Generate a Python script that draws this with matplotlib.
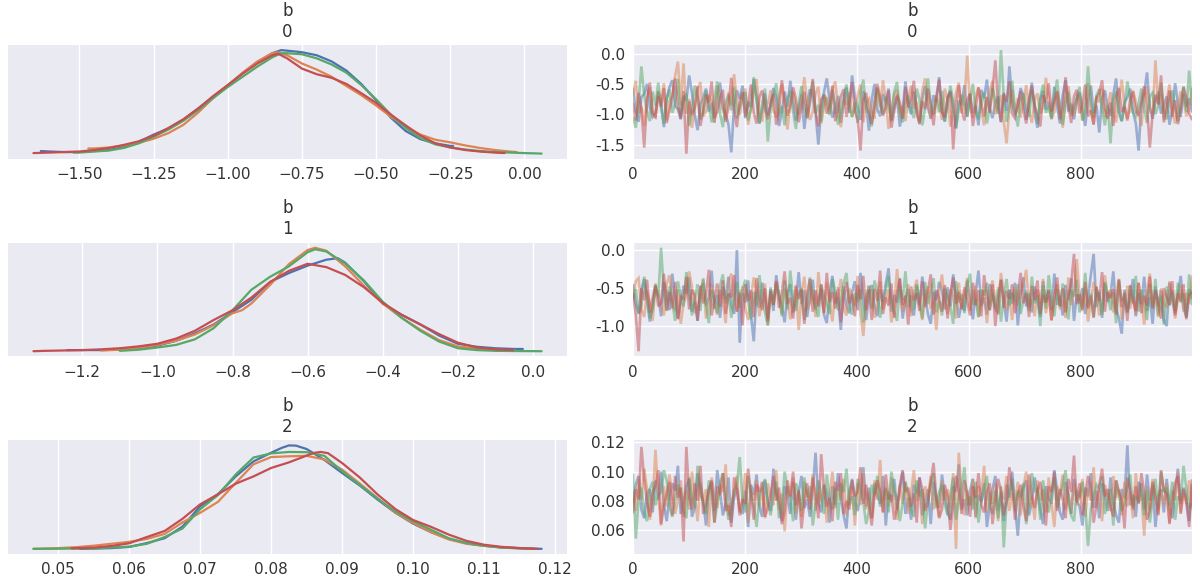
import numpy as np
import matplotlib
matplotlib.use("Agg")
import matplotlib.pyplot as plt
from matplotlib.ticker import MultipleLocator, FormatStrFormatter
import seaborn as sns

# ---------------- data ----------------
params = ["b\n0", "b\n1", "b\n2"]
chain_colors = ["#4C72B0", "#DD8452", "#55A868", "#C44E52"]
n_draws = 1000

# KDE curves (x, density) per chain
b0_kde_x = [
    [-1.63, -1.60, -1.55, -1.50, -1.45, -1.40, -1.35, -1.30, -1.25, -1.20, -1.15, -1.10, -1.05, -1.00, -0.95, -0.90, -0.85, -0.82, -0.80, -0.75, -0.70, -0.65, -0.60, -0.55, -0.50, -0.45, -0.40, -0.35, -0.30, -0.25, -0.24],
    [-1.47, -1.45, -1.40, -1.35, -1.30, -1.25, -1.20, -1.15, -1.10, -1.05, -1.00, -0.95, -0.90, -0.85, -0.83, -0.80, -0.75, -0.70, -0.65, -0.60, -0.55, -0.50, -0.45, -0.40, -0.35, -0.30, -0.25, -0.20, -0.15, -0.10, -0.05, -0.026],
    [-1.52, -1.50, -1.45, -1.40, -1.35, -1.30, -1.25, -1.20, -1.15, -1.10, -1.05, -1.00, -0.95, -0.90, -0.85, -0.82, -0.80, -0.75, -0.70, -0.65, -0.60, -0.55, -0.50, -0.45, -0.40, -0.35, -0.30, -0.25, -0.20, -0.15, -0.10, -0.05, 0.0, 0.058],
    [-1.655, -1.60, -1.55, -1.50, -1.45, -1.40, -1.35, -1.30, -1.25, -1.20, -1.15, -1.10, -1.05, -1.00, -0.95, -0.90, -0.85, -0.83, -0.80, -0.75, -0.70, -0.65, -0.60, -0.55, -0.50, -0.45, -0.40, -0.35, -0.30, -0.25, -0.20, -0.15, -0.10, -0.067],
]
b0_kde_y = [
    [0.05, 0.04, 0.03, 0.03, 0.05, 0.07, 0.13, 0.23, 0.37, 0.49, 0.66, 0.88, 1.10, 1.33, 1.57, 1.79, 1.96, 2.02, 2.01, 1.98, 1.92, 1.80, 1.62, 1.36, 1.04, 0.70, 0.44, 0.28, 0.20, 0.15, 0.15],
    [0.10, 0.10, 0.12, 0.16, 0.21, 0.29, 0.40, 0.56, 0.80, 1.08, 1.33, 1.58, 1.80, 1.96, 1.98, 1.92, 1.76, 1.64, 1.50, 1.32, 1.14, 0.94, 0.72, 0.52, 0.37, 0.27, 0.22, 0.16, 0.11, 0.07, 0.04, 0.03],
    [0.02, 0.02, 0.04, 0.06, 0.11, 0.20, 0.33, 0.47, 0.64, 0.85, 1.08, 1.30, 1.50, 1.70, 1.88, 1.96, 1.96, 1.94, 1.86, 1.74, 1.58, 1.34, 1.06, 0.76, 0.50, 0.30, 0.18, 0.12, 0.08, 0.05, 0.03, 0.02, 0.01, 0.0],
    [0.01, 0.02, 0.03, 0.04, 0.07, 0.11, 0.17, 0.24, 0.35, 0.50, 0.67, 0.88, 1.12, 1.34, 1.56, 1.76, 1.92, 1.95, 1.86, 1.66, 1.55, 1.48, 1.36, 1.18, 0.99, 0.76, 0.55, 0.35, 0.20, 0.12, 0.07, 0.04, 0.02, 0.01],
]
b1_kde_x = [
    [-1.24, -1.20, -1.15, -1.10, -1.05, -1.00, -0.95, -0.90, -0.85, -0.80, -0.75, -0.70, -0.65, -0.60, -0.55, -0.52, -0.50, -0.45, -0.40, -0.35, -0.30, -0.25, -0.20, -0.15, -0.10, -0.05, -0.027],
    [-1.15, -1.10, -1.05, -1.00, -0.95, -0.90, -0.85, -0.80, -0.775, -0.75, -0.70, -0.65, -0.60, -0.58, -0.55, -0.50, -0.45, -0.40, -0.35, -0.30, -0.25, -0.20, -0.15, -0.10, -0.048],
    [-1.10, -1.05, -1.00, -0.95, -0.90, -0.85, -0.80, -0.75, -0.70, -0.65, -0.60, -0.58, -0.55, -0.50, -0.45, -0.40, -0.35, -0.30, -0.25, -0.20, -0.15, -0.10, -0.05, 0.023],
    [-1.33, -1.30, -1.25, -1.20, -1.15, -1.10, -1.05, -1.00, -0.95, -0.90, -0.85, -0.80, -0.75, -0.70, -0.65, -0.60, -0.55, -0.50, -0.45, -0.40, -0.35, -0.30, -0.25, -0.20, -0.15, -0.10, -0.053],
]
b1_kde_y = [
    [0.03, 0.03, 0.03, 0.04, 0.08, 0.15, 0.28, 0.48, 0.72, 1.05, 1.38, 1.86, 2.10, 2.30, 2.46, 2.50, 2.38, 1.88, 1.28, 0.98, 0.72, 0.42, 0.20, 0.12, 0.08, 0.06, 0.06],
    [0.02, 0.04, 0.09, 0.17, 0.28, 0.45, 0.70, 1.02, 1.10, 1.28, 1.78, 2.34, 2.72, 2.78, 2.70, 2.28, 1.76, 1.28, 0.90, 0.58, 0.30, 0.13, 0.07, 0.04, 0.02],
    [0.01, 0.04, 0.10, 0.17, 0.32, 0.62, 1.10, 1.65, 2.00, 2.28, 2.66, 2.74, 2.68, 2.36, 1.90, 1.33, 0.90, 0.55, 0.26, 0.08, 0.03, 0.01, 0.005, 0.0],
    [0.0, 0.01, 0.02, 0.03, 0.05, 0.08, 0.13, 0.20, 0.34, 0.55, 0.84, 1.10, 1.44, 1.86, 2.16, 2.35, 2.26, 2.05, 1.72, 1.30, 0.98, 0.72, 0.46, 0.23, 0.10, 0.05, 0.03],
]
b2_kde_x = [
    [0.053, 0.055, 0.0575, 0.06, 0.0625, 0.065, 0.0675, 0.07, 0.0725, 0.075, 0.0775, 0.08, 0.0815, 0.0825, 0.0835, 0.085, 0.0875, 0.09, 0.0925, 0.095, 0.0975, 0.10, 0.1025, 0.105, 0.1075, 0.11, 0.1125, 0.115, 0.1181],
    [0.0465, 0.05, 0.0525, 0.055, 0.0575, 0.06, 0.0625, 0.065, 0.0675, 0.07, 0.0725, 0.075, 0.0775, 0.08, 0.0825, 0.085, 0.0875, 0.09, 0.0925, 0.095, 0.0975, 0.10, 0.1025, 0.105, 0.1075, 0.11, 0.1125, 0.1165],
    [0.0465, 0.05, 0.055, 0.06, 0.0625, 0.065, 0.0675, 0.07, 0.0725, 0.075, 0.0775, 0.08, 0.0825, 0.085, 0.0875, 0.09, 0.0925, 0.095, 0.0975, 0.10, 0.1025, 0.105, 0.1075, 0.11, 0.1125, 0.117],
    [0.0519, 0.055, 0.0575, 0.06, 0.0625, 0.065, 0.0675, 0.07, 0.0725, 0.075, 0.0775, 0.08, 0.0825, 0.085, 0.086, 0.087, 0.088, 0.09, 0.0925, 0.095, 0.0975, 0.10, 0.1025, 0.105, 0.1075, 0.11, 0.1125, 0.115, 0.1176],
]
b2_kde_y = [
    [0.1, 0.2, 0.4, 0.9, 2.5, 4.5, 9.3, 17.7, 22.7, 30.0, 36.2, 39.8, 41.8, 42.8, 42.7, 41.3, 36.8, 31.4, 26.2, 20.4, 15.0, 10.5, 7.0, 4.2, 2.4, 1.4, 0.6, 0.3, 0.1],
    [0.1, 0.4, 0.8, 1.4, 2.2, 3.0, 4.2, 6.3, 11.0, 15.0, 19.5, 27.3, 35.0, 38.0, 38.3, 38.5, 37.0, 32.8, 27.0, 21.0, 15.0, 10.8, 7.0, 4.0, 2.2, 1.3, 0.7, 0.2],
    [0.1, 0.15, 0.3, 1.0, 2.2, 5.0, 8.5, 16.5, 22.3, 30.8, 37.8, 39.5, 40.1, 40.0, 38.5, 32.1, 26.5, 20.8, 15.5, 11.5, 8.0, 4.5, 2.5, 1.4, 0.7, 0.2],
    [0.3, 0.6, 1.3, 2.4, 5.0, 7.5, 12.5, 18.5, 22.6, 27.0, 30.0, 33.5, 35.8, 38.6, 39.7, 40.1, 39.6, 35.5, 29.5, 22.5, 16.5, 12.0, 9.2, 6.0, 3.4, 1.8, 0.9, 0.4, 0.1],
]

# Trace values (every 5th draw), one list per chain
b0_trace = [
    [-0.58,-0.93,-1.12,-0.71,-0.66,-0.49,-0.88,-1.04,-0.97,-0.62,
     -0.80,-1.21,-0.75,-0.54,-0.43,-0.86,-0.91,-1.08,-0.69,-0.77,
     -0.35,-0.64,-1.01,-1.26,-0.83,-0.72,-0.57,-0.95,-0.81,-1.13,
     -0.68,-0.47,-0.90,-0.99,-1.17,-1.63,-0.85,-0.60,-0.74,-0.52,
     -1.06,-0.79,-0.88,-0.41,-0.70,-1.15,-0.93,-0.65,-1.02,-0.84,
     -0.56,-0.73,-1.19,-0.96,-0.62,-0.87,-0.44,-0.78,-1.10,-0.92,
     -0.67,-1.24,-0.82,-0.58,-0.71,-0.98,-1.50,-0.89,-0.63,-0.40,
     -0.76,-1.05,-0.93,-0.69,-1.14,-0.81,-0.55,-0.97,-0.35,-0.72,
     -0.88,-1.09,-0.61,-0.84,-1.27,-0.75,-0.49,-0.92,-1.03,-0.66,
     -0.79,-0.57,-1.11,-0.86,-0.70,-1.20,-0.94,-0.45,-0.83,-1.00,
     -0.62,-0.91,-1.16,-0.74,-0.53,-0.87,-1.07,-0.68,-0.80,-0.38,
     -0.95,-1.12,-0.72,-0.60,-0.89,-1.23,-0.77,-0.84,-0.51,-1.04,
     -0.66,-0.98,-0.85,-1.18,-0.59,-0.73,-0.42,-0.90,-1.06,-0.81,
     -0.70,-1.13,-0.64,-0.94,-0.20,-0.78,-1.01,-0.87,-0.56,-0.69,
     -1.09,-0.83,-0.47,-0.97,-1.22,-0.75,-0.61,-0.92,-0.79,-1.05,
     -0.54,-0.86,-1.15,-0.68,-0.43,-0.95,-0.82,-1.08,-0.72,-0.63,
     -0.90,-1.19,-0.77,-0.52,-0.98,-0.85,-1.30,-0.74,-0.60,-0.88,
     -1.02,-0.67,-0.40,-0.93,-1.11,-0.80,-0.71,-0.57,-0.96,-1.14,
     -1.60,-0.83,-0.65,-0.30,-0.89,-1.07,-0.76,-0.62,-0.99,-0.84,
     -0.70,-1.17,-0.93,-0.48,-0.81,-1.04,-0.66,-0.88,-0.73,-0.95],
    [-0.66,-0.44,-0.98,-0.87,-1.19,-0.72,-0.55,-0.93,-1.06,-0.61,
     -0.81,-0.48,-1.10,-0.77,-0.69,-0.36,-0.12,-0.84,-0.15,-0.99,
     -0.74,-1.22,-0.89,-0.58,-0.46,-1.03,-0.95,-0.67,-0.80,-1.14,
     -0.52,-0.71,-0.92,-1.08,-0.63,-0.85,-0.33,-0.78,-1.01,-0.70,
     -0.57,-1.17,-0.88,-0.64,-0.41,-0.97,-1.12,-0.75,-0.83,-0.60,
     -0.93,-1.05,-0.68,-0.49,-0.86,-1.25,-0.79,-0.62,-0.91,-1.00,
     -0.73,-0.38,-0.82,-1.09,-0.96,-0.65,-0.54,-1.15,-0.87,-0.71,
     -0.99,-0.59,-0.45,-0.90,-1.21,-0.76,-0.84,-0.63,-1.04,-0.92,
     -0.68,-0.50,-1.13,-0.81,-0.74,-0.97,-1.07,-0.56,-0.88,-0.43,
     -0.77,-1.24,-0.94,-0.66,-0.59,-1.01,-0.85,-1.11,-0.72,-0.52,
     -0.90,-0.79,-1.16,-0.61,-0.40,-0.86,-1.03,-0.95,-0.69,-0.82,
     -1.09,-0.57,-0.75,-1.20,-0.91,-0.64,-0.47,-0.98,-0.80,-0.02,
     -0.87,-1.06,-0.70,-0.55,-0.93,-1.18,-0.76,-0.62,-0.44,-1.00,
     -0.84,-0.68,-1.12,-1.48,-0.89,-0.58,-0.96,-0.73,-1.05,-0.81,
     -0.51,-0.92,-1.14,-0.77,-0.65,-0.99,-0.86,-0.39,-0.74,-1.08,
     -0.95,-0.60,-0.83,-1.22,-0.71,-0.53,-0.90,-1.02,-0.78,-0.67,
     -1.10,-0.85,-0.48,-0.94,-1.16,-0.69,-0.80,-0.57,-1.04,-0.88,
     -0.63,-0.97,-1.13,-0.75,-0.42,-0.86,-1.07,-0.92,-0.60,-0.79,
     -0.98,-1.19,-0.71,-0.54,-0.89,-1.01,-0.10,-0.83,-0.66,-1.09,
     -0.77,-0.50,-0.93,-1.15,-0.85,-0.62,-0.73,-1.03,-0.90,-0.58],
    [-1.05,-1.22,-0.79,-0.20,-0.68,-0.94,-1.11,-0.62,-0.85,-0.47,
     -0.90,-1.16,-0.73,-0.58,-0.97,-0.83,-0.41,-1.03,-0.76,-0.65,
     -1.19,-0.88,-0.52,-0.71,-1.08,-0.96,-0.60,-0.84,-1.13,-0.74,
     -0.45,-0.99,-1.21,-0.80,-0.67,-0.93,-0.55,-1.06,-0.87,-0.70,
     -0.63,-1.10,-0.92,-0.38,-0.78,-1.15,-0.82,-0.57,-1.45,-0.91,
     -0.69,-0.48,-1.02,-0.86,-1.18,-0.75,-0.61,-0.95,-1.24,-0.81,
     -0.53,-0.89,-1.07,-0.72,-0.44,-0.98,-0.84,-1.12,-0.66,-0.77,
     -1.01,-0.59,-0.85,-1.17,-0.93,-0.70,-0.50,-0.88,-1.04,-0.79,
     -1.14,-0.64,-0.42,-0.90,-0.97,-1.20,-0.76,-0.55,-0.83,-1.00,
     -0.71,-0.87,-1.09,-0.62,-0.46,-0.94,-1.13,-0.80,-0.68,-0.92,
     -1.06,-0.57,-0.75,-1.18,-0.89,-0.40,-0.82,-1.01,-0.73,-0.96,
     -0.61,-1.11,-0.86,-0.52,-0.78,-1.23,-0.91,-0.67,-0.84,-1.03,
     -0.74,-0.49,-0.95,-1.08,-0.81,-0.63,-1.15,-0.88,-0.56,-0.77,
     -0.99,0.07,-0.70,-1.12,-0.85,-0.44,-0.92,-1.20,-0.78,-0.65,
     -0.87,-1.04,-0.59,-0.83,-1.16,-0.72,-0.50,-0.97,-0.89,-1.07,
     -0.68,-0.42,-0.93,-1.17,-0.80,-0.62,-1.02,-0.86,-0.74,-0.54,
     -1.10,-0.95,-0.20,-0.79,-1.05,-0.69,-0.58,-0.91,-1.18,-0.84,
     -1.48,-0.76,-0.61,-0.98,-1.11,-0.87,-0.45,-0.73,-0.96,-1.03,
     -0.82,-0.57,-0.90,-1.14,-0.70,-0.64,-1.00,-0.85,-0.47,-0.93,
     -1.08,-0.75,-0.60,-0.88,-1.12,-0.79,-0.53,-0.96,-0.27,-0.83],
    [-0.82,-1.10,-0.64,-0.91,-1.55,-0.76,-0.47,-0.98,-1.04,-0.69,
     -0.87,-0.56,-1.14,-0.93,-0.72,-0.40,-0.85,-1.07,-0.61,-1.65,
     -0.78,-1.01,-0.88,-0.53,-1.19,-0.94,-0.67,-0.81,-0.45,-1.06,
     -0.96,-0.73,-0.59,-1.12,-0.86,-0.39,-0.92,-1.21,-0.77,-0.63,
     -1.03,-0.84,-0.50,-0.97,-1.15,-0.71,-0.60,-0.89,-1.08,-0.80,
     -0.66,-1.17,-0.93,-0.43,-0.79,-1.02,-0.87,-0.55,-0.74,-1.13,
     -0.90,-0.62,-1.05,-0.83,-0.41,-0.95,-1.20,-0.75,-0.68,-0.99,
     -0.86,-0.52,-1.11,-0.92,-0.70,-0.58,-1.04,-0.81,-0.46,-0.94,
     -1.09,-1.60,-0.77,-0.64,-0.97,-1.16,-0.85,-0.49,-0.73,-1.02,
     -0.89,-0.60,-1.22,-0.95,-0.67,-0.80,-1.07,-0.54,-0.88,-0.74,
     -0.44,-1.00,-1.13,-0.78,-0.91,-0.57,-0.84,-1.18,-0.69,-0.42,
     -0.96,-1.05,-0.72,-0.63,-1.58,-0.87,-0.51,-0.93,-1.10,-0.76,
     -0.65,-1.19,-0.90,-0.55,-0.82,-1.03,-0.71,-0.97,-0.58,-0.10,
     -0.88,-1.12,-0.66,-0.79,-0.45,-0.99,-1.06,-0.83,-0.61,-0.92,
     -1.15,-0.74,-0.52,-0.86,-1.01,-1.20,-0.68,-0.81,-0.48,-0.95,
     -0.77,-0.62,-1.08,-0.90,-0.38,-0.85,-1.14,-0.70,-0.59,-0.98,
     -0.84,-0.50,-1.03,-0.93,-1.17,-0.73,-0.64,-0.43,-0.91,-1.07,
     -0.80,-1.19,-0.69,-0.56,-0.96,-0.87,-1.10,-0.75,-0.62,-0.94,
     -1.02,-0.78,-0.53,-0.88,-1.55,-0.97,-0.67,-0.83,-0.35,-1.13,
     -0.89,-0.60,-1.04,-0.76,-1.16,-0.92,-0.55,-0.71,-0.99,-1.08],
]
b1_trace = [
    [-0.46,-0.71,-0.83,-0.52,-0.38,-0.66,-0.94,-0.75,-0.49,-0.60,
     -0.87,-0.42,-0.55,-0.79,-0.31,-0.64,-0.90,-0.70,-0.47,-0.58,
     -0.36,-0.81,-0.68,-0.93,-0.50,-0.44,-0.73,-0.62,-0.27,-0.77,
     -0.59,-0.89,-0.48,-0.65,-0.35,-0.72,-0.84,0.00,-1.22,-0.57,
     -0.69,-0.40,-0.86,-1.20,-0.54,-0.76,-0.43,-0.63,-0.91,-0.51,
     -0.80,-0.33,-0.60,-0.74,-0.95,-0.56,-0.45,-0.82,-0.67,-0.29,
     -0.71,-0.53,-0.88,-0.61,-0.39,-0.78,-0.66,-0.50,-0.85,-0.96,
     -0.57,-0.34,-0.70,-0.62,-1.05,-0.48,-0.75,-0.83,-0.55,-0.41,
     -0.79,-0.30,-0.64,-0.92,-0.58,-0.46,-0.73,-0.87,-0.52,-0.68,
     -0.44,-0.24,-0.81,-0.59,-0.69,-0.37,-0.90,-0.63,-0.51,-0.76,
     -0.86,-0.47,-0.72,-0.35,-0.60,-0.84,-0.97,-0.55,-0.66,-0.42,
     -0.53,-0.78,-0.49,-0.74,-0.32,-0.61,-0.89,-0.70,-0.80,-0.40,
     -0.65,-0.91,-0.56,-0.27,-0.73,-0.62,-0.85,-0.45,-0.58,-0.77,
     -0.83,-0.39,-0.67,-0.94,-0.52,-0.71,-0.43,-0.99,-0.60,-0.36,
     -0.74,-0.57,-0.82,-0.48,-0.64,-0.88,-0.41,-0.69,-0.54,-0.79,
     -0.31,-0.72,-0.61,-0.86,-0.46,-0.66,-0.37,-0.93,-0.58,-0.70,
     -0.50,-0.84,-0.63,-0.33,-0.05,-0.75,-0.55,-0.89,-0.44,-0.68,
     -0.59,-0.28,-0.77,-0.90,-1.10,-0.52,-0.81,-0.65,-0.38,-0.87,
     -0.57,-0.71,-0.35,-0.80,-0.62,-0.97,-0.48,-0.74,-0.53,-0.92,
     -1.00,-0.43,-0.67,-0.83,-0.58,-0.34,-0.76,-0.88,-0.51,-0.63],
    [-0.62,-0.41,-0.37,-0.78,-0.88,-0.55,-0.69,-0.93,-0.47,-0.58,
     -0.74,-0.86,-0.44,-0.33,-0.65,-0.80,-0.52,-0.97,-0.71,-0.60,
     -0.28,-0.49,-0.83,-0.76,-0.57,-0.39,-0.90,-0.64,-0.45,-0.72,
     -0.85,-0.53,-0.67,-0.96,-0.42,-0.31,-0.70,-0.81,-0.59,-0.48,
     -0.77,-0.92,-0.63,-0.36,-0.54,-0.87,-0.68,-0.44,-0.99,-0.56,
     -0.73,-0.40,-0.61,-0.84,-0.50,-0.66,-0.91,-0.75,-0.46,-1.05,
     -0.58,-0.35,-0.79,-0.69,-0.52,-0.88,-0.29,-0.62,-0.82,-0.43,
     -0.71,-0.94,-0.55,-0.64,-0.38,-0.76,-0.86,-0.50,-0.60,-0.73,
     -0.34,-0.83,-1.13,-0.65,-0.47,-0.57,-0.89,-0.70,-0.41,-0.78,
     -0.63,-0.52,-0.95,-0.74,-0.25,-0.59,-0.81,-0.67,-0.45,-0.87,
     -0.54,-0.39,-0.72,-0.92,-0.61,-0.48,-0.77,-0.66,-1.05,-0.56,
     -0.32,-0.69,-0.84,-0.51,-0.62,-0.90,-0.43,-0.75,-0.58,-0.37,
     -0.80,-0.64,-0.47,-0.88,-0.71,-0.53,-0.96,-0.60,-0.40,-0.68,
     -0.85,-0.30,-0.57,-0.79,-0.63,-0.92,-0.49,-0.73,-0.55,-0.44,
     -0.26,-0.76,-0.65,-0.87,-0.51,-0.70,-0.38,-0.83,-0.61,-0.93,
     -0.58,-0.45,-0.78,-0.66,-0.89,-0.36,-0.72,-0.54,-0.12,-0.62,
     -0.80,-0.49,-0.94,-0.68,-0.42,-0.57,-0.86,-0.74,-0.33,-0.64,
     -0.52,-0.82,-0.60,-0.39,-0.91,-0.70,-0.47,-0.77,-0.59,-0.85,
     -0.43,-0.67,-0.98,-0.55,-0.31,-0.73,-0.62,-0.88,-0.50,-0.69,
     -0.76,-0.41,-0.58,-0.90,-0.64,-0.46,-0.81,-0.56,-0.71,-0.35],
    [-0.66,-0.51,-0.84,-0.73,-0.35,-0.59,-0.90,-0.77,-0.44,-0.62,
     0.03,-0.55,-0.79,-0.48,-0.68,-0.93,-0.41,-0.60,-0.74,-0.29,
     -0.57,-0.86,-0.64,-0.45,-0.80,-0.37,-0.71,-0.96,-0.53,-0.65,
     -0.83,-0.47,-0.32,-0.70,-0.58,-0.89,-0.61,-0.42,-0.76,-0.52,
     -0.39,-0.67,-0.91,-0.55,-0.74,-0.33,-0.63,-0.82,-0.99,-0.49,
     -0.72,-0.44,-0.58,-0.87,-0.40,-0.78,-0.27,-0.65,-0.80,-0.56,
     -0.50,-0.92,-0.69,-0.36,-0.61,-0.75,-0.88,-0.46,-0.59,-0.71,
     -0.84,-0.38,-0.54,-0.79,-0.66,-0.43,-0.30,-0.73,-0.85,-0.57,
     -0.68,-0.51,-0.95,-0.62,-0.47,-0.77,-0.40,-0.56,-0.89,-0.64,
     -0.53,-0.34,-0.70,-0.81,-0.93,-0.48,-0.66,-0.28,-0.75,-0.60,
     -0.78,-0.45,-0.63,-0.90,-0.42,-0.71,-0.55,-0.37,-0.82,-0.67,
     -0.86,-0.50,-0.61,-0.74,-0.97,-0.41,-0.69,-0.58,-0.83,-0.46,
     -0.31,-0.72,-0.64,-0.88,-0.52,-0.60,-0.43,-0.79,-0.57,-0.76,
     -0.49,-0.94,-0.62,-0.38,-0.73,-0.56,-0.68,-0.45,-0.84,-0.66,
     -0.54,-0.80,-0.35,-0.70,-0.59,-1.00,-0.47,-0.77,-0.33,-0.63,
     -0.87,-0.51,-0.74,-0.44,-0.65,-0.91,-0.53,-0.61,-0.39,-0.82,
     -0.68,-0.30,-0.75,-0.57,-0.88,-0.49,-0.64,-0.85,-0.42,-0.58,
     -0.79,-0.55,-0.96,-0.40,-0.67,-0.62,-0.83,-0.47,-0.70,-0.34,
     -0.81,-0.52,-0.66,-0.92,-0.45,-0.76,-0.38,-0.86,-0.60,-0.98,
     -0.48,-0.73,-0.54,-0.80,-0.43,-0.69,-0.57,-0.89,-0.32,-0.71],
    [-0.58,-0.85,-1.33,-0.50,-0.66,-0.39,-0.82,-0.63,-0.46,-0.74,
     -0.69,-0.31,-0.80,-0.55,-0.77,-0.42,-0.91,-0.61,-0.64,-0.35,
     -0.78,-0.52,-0.59,-0.93,-0.47,-0.70,-0.58,-0.26,-0.86,-0.65,
     -0.44,-0.75,-0.40,-0.84,-0.57,-0.62,-0.33,-0.81,-0.56,-0.99,
     -0.45,-0.67,-0.53,-0.88,-0.37,-0.60,-0.79,-0.50,-0.94,-0.54,
     -0.72,-0.41,-0.76,-0.56,-0.28,-0.71,-0.63,-0.90,-0.48,-0.64,
     -0.52,-0.97,-0.59,-0.38,-0.81,-0.53,-0.74,-0.45,-0.83,-0.30,
     -0.68,-0.55,-0.77,-0.49,-0.95,-0.61,-0.42,-0.70,-0.58,-0.87,
     -0.46,-0.65,-0.34,-0.79,-0.52,-0.92,-0.51,-0.67,-0.27,-0.84,
     -0.62,-0.73,-0.44,-0.89,-0.56,-0.38,-0.72,-0.60,-0.98,-0.48,
     -0.66,-0.57,-0.80,-0.41,-0.75,-0.54,-0.32,-0.85,-0.53,-0.63,
     -0.81,-0.46,-0.90,-0.57,-0.36,-0.71,-0.55,-0.78,-0.49,-0.68,
     -0.86,-0.43,-0.73,-0.53,-0.87,-0.33,-0.60,-0.79,-0.45,-1.00,
     -0.61,-0.39,-0.76,-0.54,-0.64,-0.45,-0.83,-0.62,-0.30,-0.70,
     -0.57,-0.88,-0.47,-0.66,-0.40,-0.84,-0.59,-0.69,-0.52,-0.92,
     -0.65,-0.36,-0.74,-0.50,-0.82,-0.61,-0.44,-0.05,-0.71,-0.58,
     -0.78,-0.42,-0.77,-0.60,-0.89,-0.48,-0.67,-0.29,-0.81,-0.55,
     -0.63,-0.51,-0.85,-0.38,-0.75,-0.56,-0.93,-0.46,-0.66,-0.80,
     -0.43,-0.83,-0.60,-0.73,-0.35,-0.77,-0.53,-0.69,-0.90,-0.50,
     -0.62,-0.72,-0.41,-0.86,-0.57,-0.67,-0.45,-0.91,-0.59,-0.55],
]
b2_trace = [
    [0.079,0.091,0.097,0.074,0.068,0.085,0.088,0.072,0.094,0.081,
     0.100,0.077,0.066,0.083,0.092,0.087,0.104,0.071,0.079,0.090,
     0.095,0.069,0.075,0.099,0.084,0.080,0.063,0.088,0.093,0.073,
     0.101,0.086,0.070,0.078,0.096,0.065,0.082,0.089,0.074,0.071,
     0.087,0.062,0.091,0.084,0.098,0.076,0.069,0.094,0.080,0.073,
     0.102,0.085,0.078,0.066,0.090,0.083,0.071,0.093,0.067,0.086,
     0.097,0.075,0.081,0.069,0.088,0.113,0.079,0.072,0.091,0.085,
     0.065,0.090,0.077,0.099,0.082,0.070,0.061,0.087,0.094,0.080,
     0.073,0.084,0.103,0.076,0.089,0.068,0.092,0.083,0.078,0.097,
     0.063,0.086,0.079,0.095,0.074,0.088,0.100,0.071,0.082,0.067,
     0.091,0.085,0.096,0.070,0.077,0.088,0.064,0.093,0.081,0.075,
     0.098,0.083,0.072,0.067,0.090,0.086,0.105,0.074,0.081,0.070,
     0.087,0.095,0.069,0.084,0.079,0.092,0.062,0.077,0.088,0.097,
     0.073,0.085,0.066,0.091,0.082,0.100,0.076,0.056,0.083,0.089,
     0.094,0.070,0.079,0.096,0.086,0.074,0.064,0.090,0.081,0.078,
     0.101,0.087,0.072,0.067,0.093,0.084,0.071,0.095,0.080,0.076,
     0.063,0.089,0.083,0.099,0.075,0.087,0.068,0.092,0.085,0.073,
     0.096,0.079,0.070,0.065,0.088,0.082,0.118,0.077,0.084,0.069,
     0.093,0.086,0.074,0.098,0.080,0.091,0.062,0.083,0.088,0.072,
     0.095,0.076,0.068,0.085,0.102,0.078,0.089,0.081,0.066,0.091],
    [0.086,0.073,0.095,0.081,0.102,0.088,0.067,0.078,0.115,0.084,
     0.063,0.090,0.076,0.098,0.085,0.071,0.080,0.094,0.069,0.087,
     0.074,0.100,0.083,0.066,0.092,0.079,0.088,0.062,0.096,0.082,
     0.075,0.091,0.086,0.105,0.070,0.078,0.084,0.097,0.072,0.081,
     0.099,0.065,0.087,0.080,0.094,0.076,0.089,0.068,0.092,0.083,
     0.077,0.101,0.074,0.085,0.059,0.090,0.082,0.096,0.071,0.087,
     0.069,0.093,0.084,0.078,0.098,0.073,0.086,0.079,0.091,0.065,
     0.083,0.100,0.075,0.088,0.081,0.095,0.070,0.085,0.090,0.063,
     0.092,0.077,0.099,0.074,0.086,0.068,0.094,0.081,0.108,0.072,
     0.088,0.076,0.096,0.083,0.067,0.091,0.078,0.093,0.071,0.085,
     0.101,0.079,0.087,0.064,0.090,0.082,0.097,0.074,0.084,0.069,
     0.094,0.080,0.088,0.075,0.099,0.047,0.113,0.083,0.070,0.087,
     0.077,0.095,0.068,0.090,0.084,0.104,0.072,0.086,0.078,0.092,
     0.066,0.087,0.081,0.097,0.073,0.085,0.079,0.093,0.070,0.089,
     0.100,0.076,0.083,0.067,0.094,0.080,0.088,0.072,0.096,0.078,
     0.062,0.090,0.084,0.098,0.074,0.086,0.071,0.092,0.077,0.084,
     0.095,0.069,0.089,0.080,0.103,0.075,0.087,0.066,0.091,0.082,
     0.073,0.097,0.082,0.088,0.070,0.093,0.076,0.086,0.068,0.099,
     0.079,0.084,0.056,0.090,0.074,0.095,0.083,0.071,0.088,0.077,
     0.092,0.065,0.087,0.080,0.100,0.072,0.085,0.078,0.094,0.075],
    [0.098,0.054,0.081,0.089,0.072,0.066,0.088,0.093,0.077,0.084,
     0.086,0.101,0.094,0.076,0.069,0.080,0.091,0.087,0.073,0.068,
     0.096,0.083,0.075,0.104,0.090,0.079,0.071,0.094,0.085,0.065,
     0.078,0.092,0.099,0.082,0.067,0.074,0.087,0.091,0.110,0.080,
     0.072,0.097,0.085,0.076,0.062,0.083,0.089,0.095,0.079,0.070,
     0.084,0.093,0.068,0.075,0.100,0.088,0.081,0.066,0.092,0.086,
     0.073,0.096,0.082,0.090,0.063,0.078,0.094,0.085,0.071,0.098,
     0.080,0.074,0.089,0.067,0.092,0.086,0.102,0.077,0.083,0.070,
     0.095,0.088,0.079,0.064,0.073,0.091,0.084,0.097,0.076,0.082,
     0.089,0.072,0.100,0.087,0.081,0.066,0.078,0.093,0.085,0.074,
     0.069,0.094,0.083,0.088,0.061,0.079,0.092,0.099,0.075,0.086,
     0.091,0.078,0.070,0.084,0.096,0.067,0.082,0.089,0.103,0.077,
     0.083,0.074,0.093,0.065,0.080,0.088,0.097,0.076,0.071,0.087,
     0.068,0.090,0.048,0.079,0.085,0.095,0.073,0.087,0.082,0.092,
     0.064,0.078,0.099,0.086,0.089,0.067,0.094,0.080,0.072,0.085,
     0.096,0.075,0.083,0.091,0.101,0.079,0.070,0.066,0.087,0.082,
     0.093,0.077,0.049,0.074,0.084,0.091,0.088,0.097,0.071,0.080,
     0.088,0.063,0.094,0.085,0.073,0.078,0.090,0.098,0.076,0.083,
     0.079,0.092,0.070,0.087,0.065,0.081,0.095,0.074,0.100,0.086,
     0.089,0.077,0.093,0.067,0.083,0.080,0.104,0.088,0.075,0.078],
    [0.072,0.088,0.081,0.117,0.095,0.079,0.069,0.086,0.090,0.101,
     0.064,0.076,0.085,0.093,0.070,0.097,0.082,0.089,0.052,0.117,
     0.083,0.074,0.092,0.080,0.104,0.071,0.078,0.087,0.094,0.065,
     0.090,0.084,0.099,0.073,0.077,0.062,0.096,0.088,0.070,0.081,
     0.078,0.102,0.085,0.067,0.091,0.086,0.093,0.069,0.075,0.084,
     0.097,0.080,0.089,0.064,0.073,0.094,0.083,0.100,0.077,0.087,
     0.061,0.079,0.092,0.074,0.096,0.085,0.068,0.112,0.088,0.076,
     0.082,0.066,0.093,0.087,0.099,0.071,0.080,0.074,0.095,0.083,
     0.086,0.103,0.078,0.091,0.077,0.063,0.084,0.094,0.087,0.072,
     0.098,0.081,0.084,0.067,0.075,0.090,0.101,0.086,0.089,0.076,
     0.085,0.065,0.096,0.088,0.073,0.079,0.093,0.106,0.082,0.068,
     0.074,0.091,0.083,0.060,0.078,0.097,0.087,0.071,0.094,0.085,
     0.069,0.090,0.082,0.099,0.077,0.072,0.086,0.092,0.064,0.080,
     0.095,0.087,0.070,0.079,0.103,0.089,0.067,0.084,0.091,0.076,
     0.066,0.098,0.083,0.075,0.087,0.093,0.080,0.063,0.090,0.086,
     0.100,0.073,0.088,0.081,0.068,0.095,0.086,0.111,0.079,0.092,
     0.070,0.084,0.097,0.089,0.065,0.077,0.091,0.102,0.083,0.088,
     0.076,0.069,0.094,0.086,0.081,0.061,0.096,0.088,0.074,0.090,
     0.078,0.099,0.085,0.067,0.073,0.093,0.082,0.070,0.101,0.087,
     0.085,0.064,0.080,0.092,0.097,0.071,0.088,0.079,0.062,0.094],
]

kde_x = [b0_kde_x, b1_kde_x, b2_kde_x]
kde_y = [b0_kde_y, b1_kde_y, b2_kde_y]
traces = [b0_trace, b1_trace, b2_trace]
kde_tick_step = [0.25, 0.2, 0.01]
trace_ytick_step = [0.5, 0.5, 0.02]
trace_yfmt = ["%.1f", "%.1f", "%.2f"]
trace_xtick_step = 200

# ---------------- style ----------------
sns.set_theme(style="darkgrid")
plt.rcParams["font.family"] = ["DejaVu Sans"]
plt.rcParams["axes.facecolor"] = "#EAEAF2"
plt.rcParams["xtick.labelsize"] = 11
plt.rcParams["ytick.labelsize"] = 11
plt.rcParams["xtick.color"] = "#333333"
plt.rcParams["ytick.color"] = "#333333"

fig, axes = plt.subplots(3, 2, figsize=(12, 5.88), dpi=100)
fig.subplots_adjust(left=0.0067, right=0.9933, top=0.9235, bottom=0.0578,
                    wspace=0.118, hspace=0.737)

for r in range(3):
    axk = axes[r, 0]
    axt = axes[r, 1]
    for c in range(4):
        axk.plot(kde_x[r][c], kde_y[r][c], color=chain_colors[c], lw=1.6)
    axk.set_yticks([])
    axk.xaxis.set_major_locator(MultipleLocator(kde_tick_step[r]))
    axk.set_title(params[r], fontsize=12, color="#333333", linespacing=1.2)

    for c in range(4):
        vals = traces[r][c]
        draws = np.linspace(0, n_draws - 1, len(vals))
        axt.plot(draws, vals, color=chain_colors[c], lw=1.9, alpha=0.5,
                 solid_joinstyle="miter")
    axt.set_xlim(0, n_draws - 1)
    axt.xaxis.set_major_locator(MultipleLocator(trace_xtick_step))
    axt.yaxis.set_major_locator(MultipleLocator(trace_ytick_step[r]))
    axt.yaxis.set_major_formatter(FormatStrFormatter(trace_yfmt[r]))
    axt.set_title(params[r], fontsize=12, color="#333333", linespacing=1.2)

for ax in axes.flat:
    for s in ax.spines.values():
        s.set_visible(False)
    ax.tick_params(length=0, pad=6)

fig.savefig("out.png", dpi=100)
